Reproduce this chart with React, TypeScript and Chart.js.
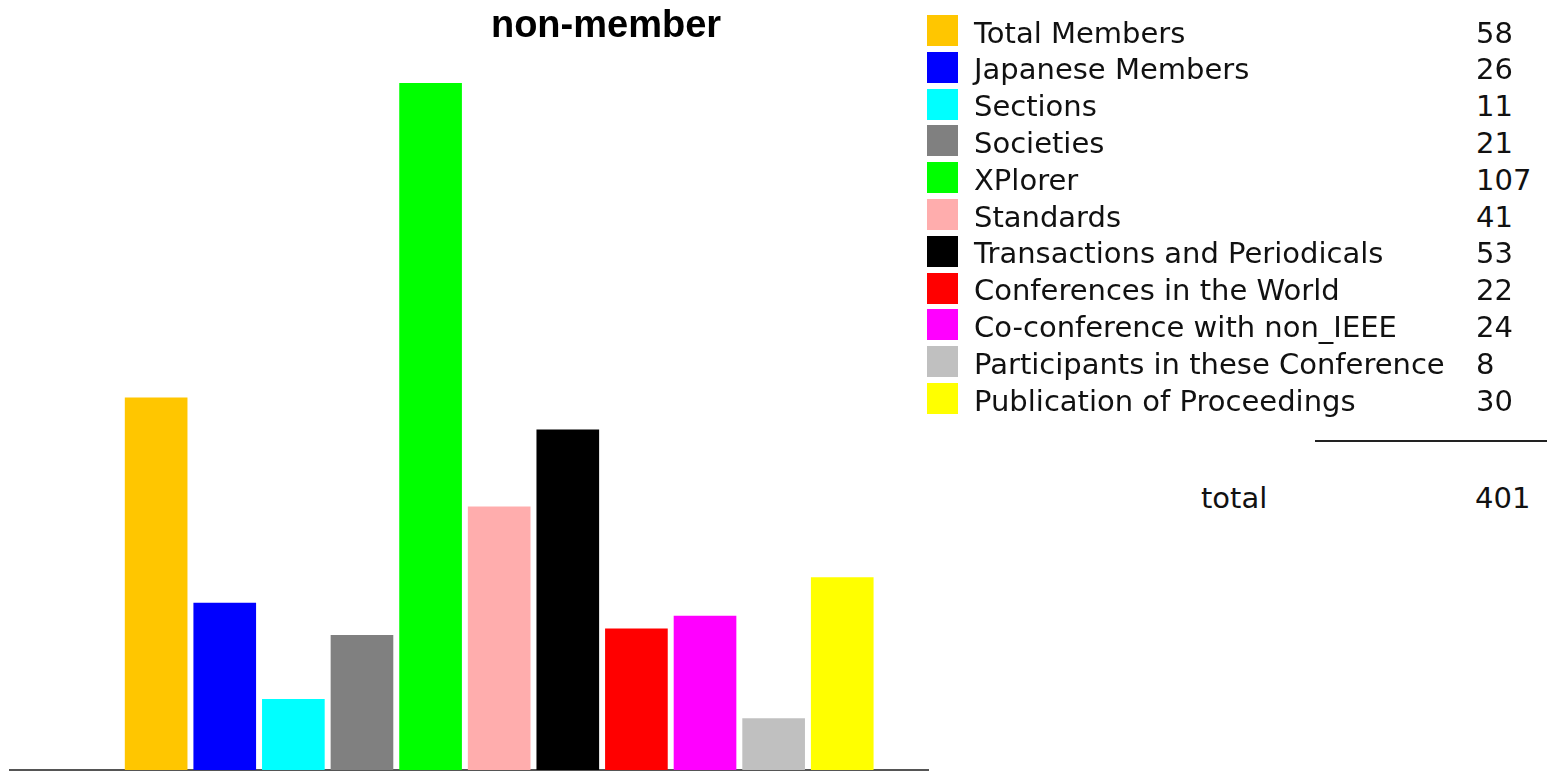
import React, { useEffect, useRef } from "react";
import { Chart, registerables } from "chart.js";

Chart.register(...registerables);

const TITLE = "non-member";
const CATEGORIES = [
  "Total Members",
  "Japanese Members",
  "Sections",
  "Societies",
  "XPlorer",
  "Standards",
  "Transactions and Periodicals",
  "Conferences in the World",
  "Co-conference with non_IEEE",
  "Participants in these Conference",
  "Publication of Proceedings",
];
const VALUES = [58, 26, 11, 21, 107, 41, 53, 22, 24, 8, 30];
const COLORS = [
  "#ffc600",
  "#0000ff",
  "#00ffff",
  "#808080",
  "#00ff00",
  "#ffadad",
  "#000000",
  "#ff0000",
  "#ff00ff",
  "#c0c0c0",
  "#ffff00",
];
const TOTAL_LABEL = "total";
const TOTAL_VALUE = 401;

const titlePlugin = {
  id: "customTitle",
  afterDraw(chart: any) {
    const ctx = chart.ctx;
    ctx.save();
    ctx.font = 'bold 38px "Liberation Sans", Arial, sans-serif';
    ctx.fillStyle = "#000";
    ctx.textAlign = "center";
    ctx.textBaseline = "alphabetic";
    ctx.fillText(TITLE, 606, 37);
    ctx.restore();
  },
};

export default function App() {
  const ref = useRef<HTMLCanvasElement | null>(null);

  useEffect(() => {
    if (!ref.current) return;
    const chart = new Chart(ref.current, {
      type: "bar",
      data: {
        datasets: [
          {
            label: TITLE,
            data: VALUES.map((v, i) => ({ x: i, y: v })),
            backgroundColor: COLORS,
            borderWidth: 0,
            barThickness: 62,
          },
        ],
      },
      options: {
        animation: false,
        responsive: false,
        maintainAspectRatio: false,
        layout: { padding: { left: 10, right: 12, top: 0, bottom: 1 } },
        plugins: {
          legend: { display: false },
          tooltip: { enabled: false },
          title: { display: false },
        },
        scales: {
          x: {
            type: "linear",
            offset: false,
            min: -2.13,
            max: 11.25,
            grid: { display: false, drawTicks: false, offset: false },
            ticks: { display: false },
            border: { display: true, color: "#555", width: 2 },
          },
          y: {
            display: false,
            min: 0,
            max: 120,
          },
        },
      },
      plugins: [titlePlugin],
    });
    return () => chart.destroy();
  }, []);

  const rowTop = 15;
  const pitch = 36.8;
  const font = '"DejaVu Sans", sans-serif';
  const fs = 29;

  return (
    <div
      style={{
        position: "absolute",
        left: 0,
        top: 0,
        width: 1552,
        height: 771,
        background: "#fff",
        overflow: "hidden",
      }}
    >
      <canvas
        ref={ref}
        width={940}
        height={771}
        style={{ position: "absolute", left: 0, top: 0, width: 940, height: 771 }}
      />
      {CATEGORIES.map((c, i) => {
        const top = rowTop + i * pitch;
        return (
          <React.Fragment key={c}>
            <div
              style={{
                position: "absolute",
                left: 927,
                top,
                width: 31,
                height: 31,
                background: COLORS[i],
              }}
            />
            <div
              style={{
                position: "absolute",
                left: 974,
                top: top + 2.5,
                height: 31,
                lineHeight: "31px",
                fontFamily: font,
                fontSize: fs,
                color: "#111",
                whiteSpace: "nowrap",
              }}
            >
              {c}
            </div>
            <div
              style={{
                position: "absolute",
                left: 1476,
                top: top + 2.5,
                height: 31,
                lineHeight: "31px",
                fontFamily: font,
                fontSize: fs,
                color: "#111",
                whiteSpace: "nowrap",
              }}
            >
              {VALUES[i]}
            </div>
          </React.Fragment>
        );
      })}
      <div
        style={{
          position: "absolute",
          left: 1315,
          top: 440,
          width: 232,
          height: 2,
          background: "#222",
        }}
      />
      <div
        style={{
          position: "absolute",
          left: 1201,
          top: 482.5,
          lineHeight: "31px",
          fontFamily: font,
          fontSize: fs,
          color: "#111",
        }}
      >
        {TOTAL_LABEL}
      </div>
      <div
        style={{
          position: "absolute",
          left: 1475,
          top: 482.5,
          lineHeight: "31px",
          fontFamily: font,
          fontSize: fs,
          color: "#111",
        }}
      >
        {TOTAL_VALUE}
      </div>
    </div>
  );
}
